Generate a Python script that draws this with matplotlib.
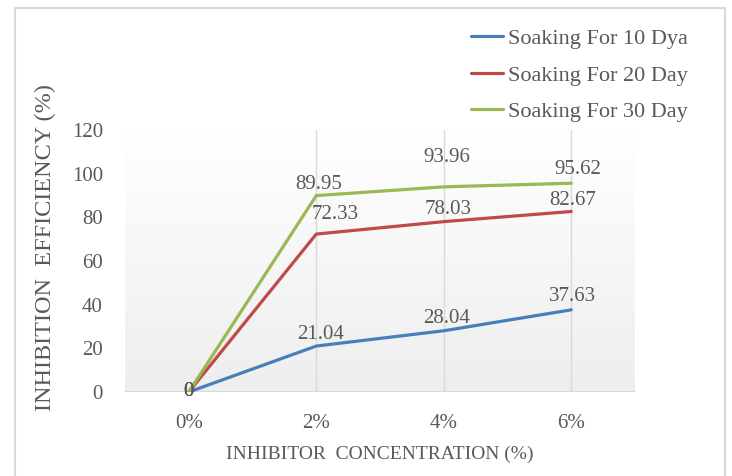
import matplotlib.pyplot as plt
import numpy as np
from matplotlib.colors import LinearSegmentedColormap
from matplotlib.lines import Line2D

plt.rcParams['font.family'] = ['Liberation Serif', 'DejaVu Serif']

concentration = ['0%', '2%', '4%', '6%']
day10 = [0, 21.04, 28.04, 37.63]
day20 = [0, 72.33, 78.03, 82.67]
day30 = [0, 89.95, 93.96, 95.62]
series_names = ['Soaking For 10 Dya', 'Soaking For 20 Day', 'Soaking For 30 Day']

colors = ['#4a7ebb', '#be4b48', '#98b954']
text_gray = '#595959'

# label nudges (pixels) so the numbers don't sit on top of each other
label_offsets = [
    [(0, 0), (4, 12), (3, 12), (1, 13)],
    [(0, 0), (19, 20), (4, 12), (1, 11)],
    [(0, 0), (2, 11), (3, 29), (7, 14)],
]

fig = plt.figure(figsize=(7.32, 4.76), dpi=100)
ax = fig.add_axes([0.1708, 0.1765, 0.6967, 0.5504])

x = np.arange(len(concentration))

# soft grey-to-white fill behind the plot area (white at the top)
grad = np.linspace(0, 1, 256).reshape(-1, 1)
cmap = LinearSegmentedColormap.from_list('bg', ['#eeeeee', '#ffffff'])
ax.imshow(grad, cmap=cmap, aspect='auto', extent=(-0.5, 3.5, 0, 120),
          zorder=0, origin='lower')

for xi in x[1:]:
    ax.axvline(xi, color='#d9d9d9', lw=1, zorder=1)
ax.axhline(0, color='#d9d9d9', lw=1.5, zorder=1)

for values, name, color, offs in zip([day10, day20, day30], series_names,
                                     colors, label_offsets):
    ax.plot(x, values, color=color, lw=2.3, label=name, zorder=3,
            solid_capstyle='round')
    for xi, v, (dx, dy) in zip(x, values, offs):
        ax.annotate(f'{v:g}', (xi, v), xytext=(dx, dy),
                    textcoords='offset pixels', ha='center', va='center',
                    fontsize=15, color=text_gray, zorder=4)

ax.set_xlim(-0.5, 3.5)
ax.set_ylim(0, 120)
ax.set_xticks(x)
ax.set_xticklabels(concentration)
ax.set_yticks(range(0, 121, 20))
ax.tick_params(axis='both', length=0, labelsize=15, labelcolor=text_gray)
ax.tick_params(axis='y', pad=16)
ax.tick_params(axis='x', pad=16)
for s in ax.spines.values():
    s.set_visible(False)

ax.set_xlabel('INHIBITOR  CONCENTRATION (%)', fontsize=14, color=text_gray,
              labelpad=9)
fig.text(0.062, 0.479, 'INHIBITION  EFFICIENCY (%)', rotation=90,
         ha='center', va='center', fontsize=17.5, color=text_gray)

ax.legend(loc='upper left', bbox_to_anchor=(0.644, 0.94),
          bbox_transform=fig.transFigure, frameon=False, fontsize=16,
          labelcolor=text_gray, handlelength=1.4, handletextpad=0.25,
          labelspacing=0.72, borderpad=0, borderaxespad=0)

# thin grey frame round the chart
for xs, ys in [([15, 15], [0, 468]), ([15, 725], [468, 468]),
               ([725, 725], [468, 0])]:
    fig.add_artist(Line2D(np.array(xs) / 732, np.array(ys) / 476,
                          color='#d9d9d9', lw=1.5))

fig.savefig('out.png', dpi=100)
